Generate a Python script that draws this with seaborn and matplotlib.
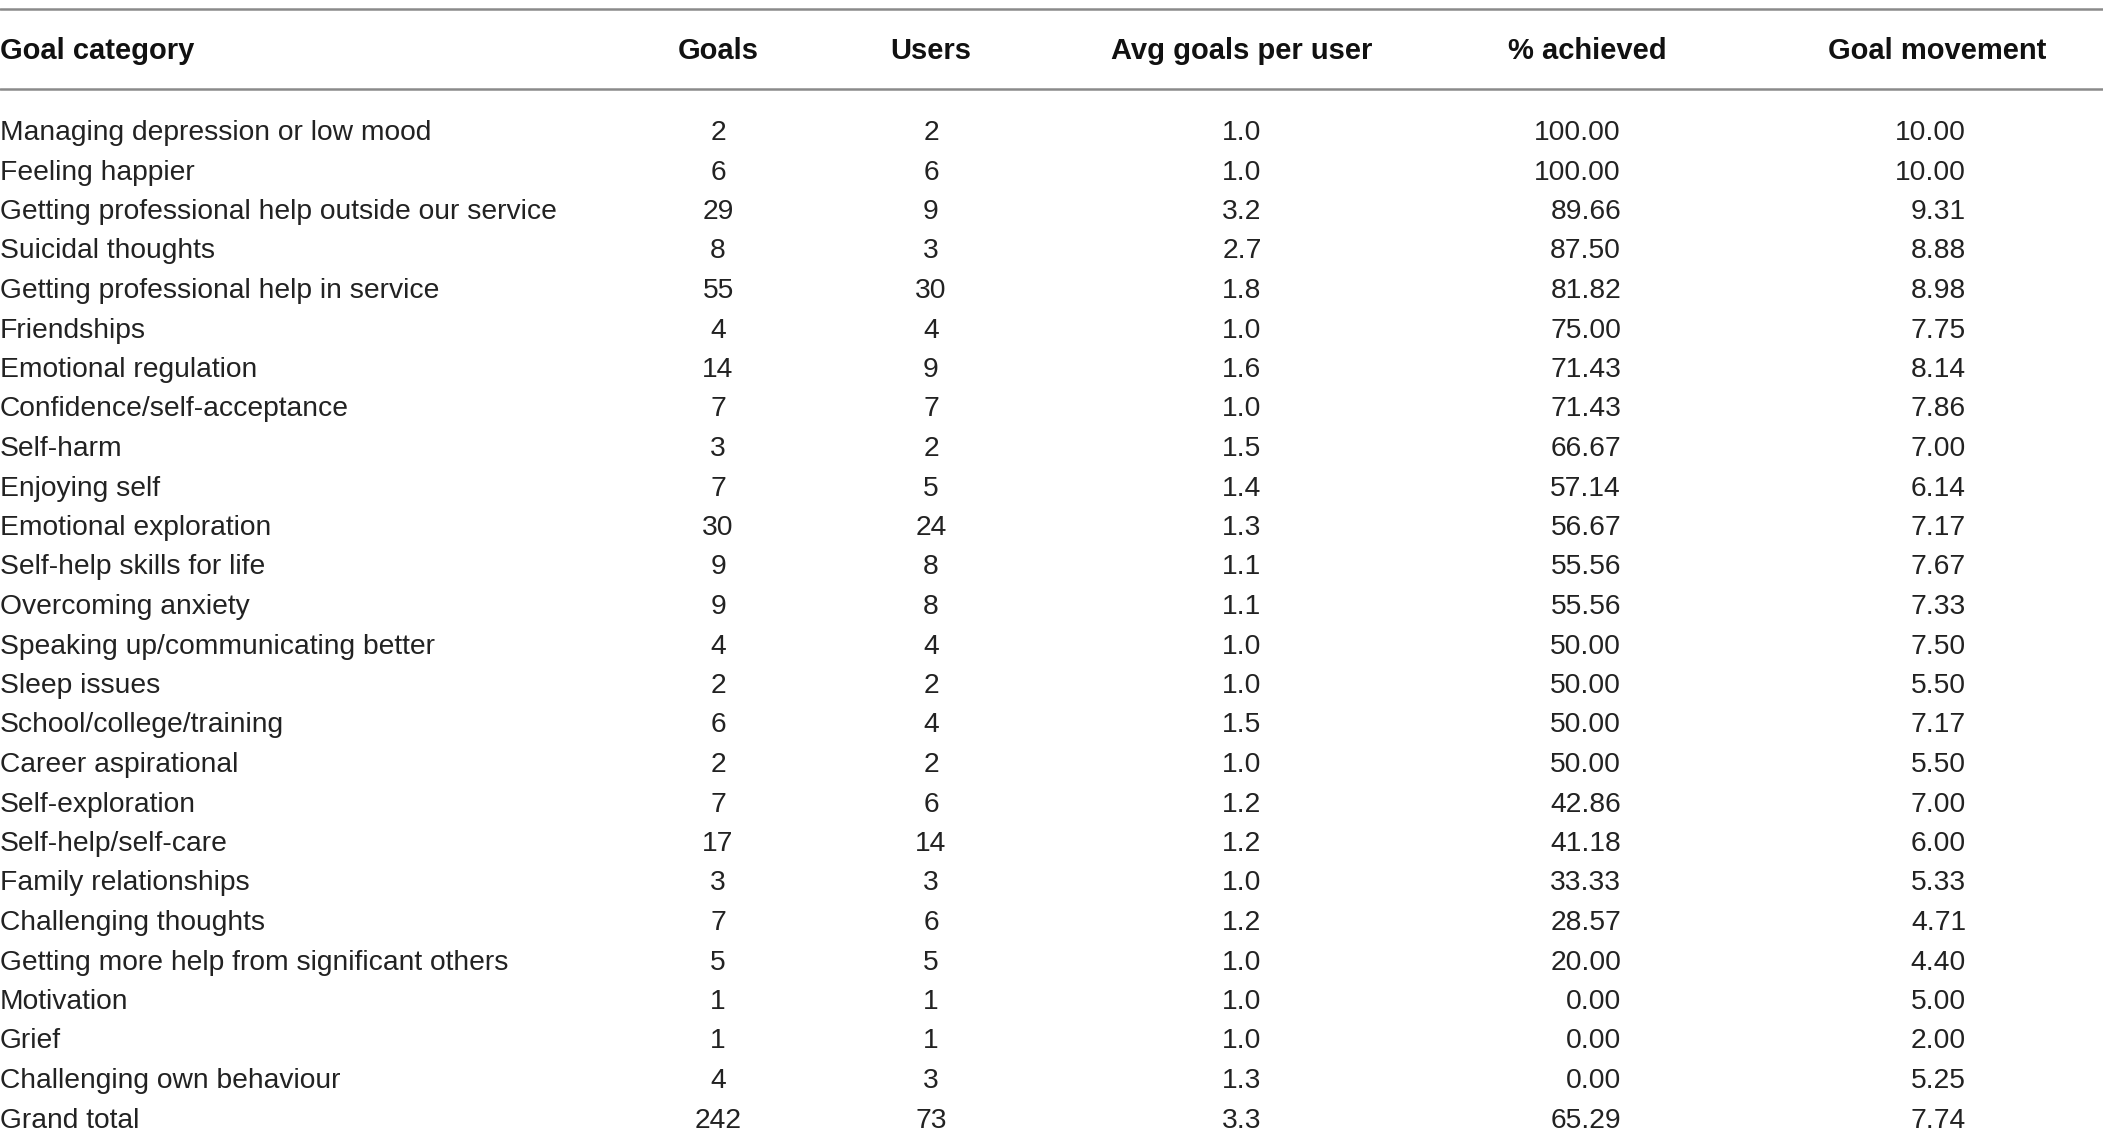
import matplotlib
matplotlib.use("Agg")
import matplotlib.pyplot as plt
import seaborn as sns
import pandas as pd

categories = [
    "Managing depression or low mood", "Feeling happier",
    "Getting professional help outside our service", "Suicidal thoughts",
    "Getting professional help in service", "Friendships", "Emotional regulation",
    "Confidence/self-acceptance", "Self-harm", "Enjoying self",
    "Emotional exploration", "Self-help skills for life", "Overcoming anxiety",
    "Speaking up/communicating better", "Sleep issues", "School/college/training",
    "Career aspirational", "Self-exploration", "Self-help/self-care",
    "Family relationships", "Challenging thoughts",
    "Getting more help from significant others", "Motivation", "Grief",
    "Challenging own behaviour", "Grand total",
]
goals = [2, 6, 29, 8, 55, 4, 14, 7, 3, 7, 30, 9, 9, 4, 2, 6, 2, 7, 17, 3, 7, 5, 1, 1, 4, 242]
users = [2, 6, 9, 3, 30, 4, 9, 7, 2, 5, 24, 8, 8, 4, 2, 4, 2, 6, 14, 3, 6, 5, 1, 1, 3, 73]
avg_goals = [1.0, 1.0, 3.2, 2.7, 1.8, 1.0, 1.6, 1.0, 1.5, 1.4, 1.3, 1.1, 1.1, 1.0, 1.0,
             1.5, 1.0, 1.2, 1.2, 1.0, 1.2, 1.0, 1.0, 1.0, 1.3, 3.3]
pct_achieved = [100.00, 100.00, 89.66, 87.50, 81.82, 75.00, 71.43, 71.43, 66.67, 57.14,
                56.67, 55.56, 55.56, 50.00, 50.00, 50.00, 50.00, 42.86, 41.18, 33.33,
                28.57, 20.00, 0.00, 0.00, 0.00, 65.29]
goal_movement = [10.00, 10.00, 9.31, 8.88, 8.98, 7.75, 8.14, 7.86, 7.00, 6.14, 7.17, 7.67,
                 7.33, 7.50, 5.50, 7.17, 5.50, 7.00, 6.00, 5.33, 4.71, 4.40, 5.00, 2.00,
                 5.25, 7.74]
headers = ["Goal category", "Goals", "Users", "Avg goals per user", "% achieved", "Goal movement"]

df = pd.DataFrame({
    "Goal category": categories,
    "Goals": [str(v) for v in goals],
    "Users": [str(v) for v in users],
    "Avg goals per user": [f"{v:.1f}" for v in avg_goals],
    "% achieved": [f"{v:.2f}" for v in pct_achieved],
    "Goal movement": [f"{v:.2f}" for v in goal_movement],
})

sns.set_theme(style="white")
plt.rcParams["font.family"] = ["Liberation Sans", "DejaVu Sans"]

fig = plt.figure(figsize=(21.03, 11.48), dpi=100)
ax = fig.add_axes([0, 0, 1, 1])
ax.set_xlim(0, 2103)
row_h = 39.5
y0 = 133  # centre of first body row, pixels from top
ax.set_ylim((1148 - y0) / row_h, -y0 / row_h)
ax.axis("off")

# column x anchor (pixels) and alignment for body / header
col_x = {"Goal category": 0, "Goals": 718, "Users": 931, "Avg goals per user": 1242,
         "% achieved": 1621, "Goal movement": 1966}
col_ha = {"Goal category": "left", "Goals": "center", "Users": "center",
          "Avg goals per user": "center", "% achieved": "right", "Goal movement": "right"}
head_x = {"Goal category": 0, "Goals": 718, "Users": 931, "Avg goals per user": 1242,
          "% achieved": 1587, "Goal movement": 1937}

fs = 20.3
head_y = (51 - y0) / row_h
for h in headers:
    ha = "left" if h == "Goal category" else "center"
    ax.text(head_x[h], head_y, h, ha=ha, va="center", fontsize=21,
            fontweight="bold", color="#111111")

for i, row in df.iterrows():
    for h in headers:
        ax.text(col_x[h], i, row[h], ha=col_ha[h], va="center", fontsize=fs,
                color="#222222")

ax.axhline((9 - y0) / row_h, color="#8a8a8a", lw=1.8)
ax.axhline((89 - y0) / row_h, color="#8a8a8a", lw=1.8)

fig.savefig("out.png", dpi=100)
